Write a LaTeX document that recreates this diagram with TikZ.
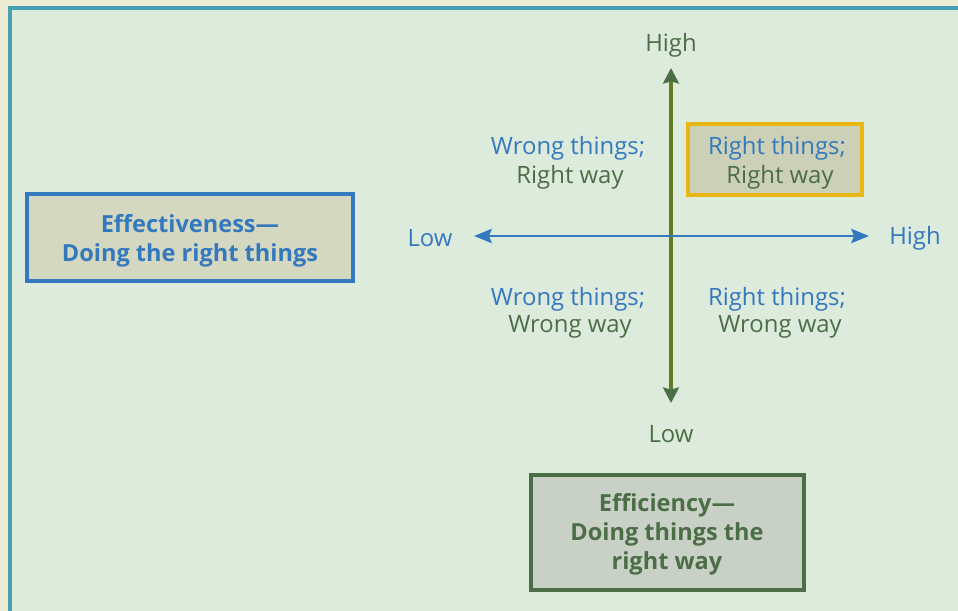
\documentclass[tikz,border=0pt]{standalone}
\usepackage{fontspec}
\setmainfont{Open Sans}
\usetikzlibrary{arrows.meta}
\definecolor{cream}{RGB}{236,235,211}
\definecolor{panel}{RGB}{221,235,221}
\definecolor{framecol}{RGB}{72,160,180}
\definecolor{axisblue}{RGB}{52,120,190}
\definecolor{axisgreen}{RGB}{76,110,70}
\definecolor{olive}{RGB}{98,122,38}
\definecolor{gold}{RGB}{232,183,18}
\definecolor{efffill}{RGB}{213,216,193}
\definecolor{rightfill}{RGB}{204,208,182}
\definecolor{efcfill}{RGB}{201,209,199}
\tikzset{axistip/.tip={Stealth[length=10pt,width=8pt,inset=1.5pt]},
  greentip/.tip={Stealth[length=8.8pt,width=9pt,inset=1.2pt,color=axisgreen]}}
\begin{document}
\begin{tikzpicture}[x=0.02cm,y=-0.02cm,
  lbl/.style={font=\fontsize{13.6}{16.2}\selectfont,align=center,inner sep=0pt},
  bluelbl/.style={lbl,text=axisblue},
  greenlbl/.style={lbl,text=axisgreen},
  bigbox/.style={lbl,font=\fontsize{13.4}{16.4}\selectfont\bfseries,line width=1.9pt}]
\useasboundingbox (0,0) rectangle (958,611);
\clip (0,0) rectangle (958,611);
\fill[cream] (0,0) rectangle (958,611);
\draw[framecol,fill=panel,line width=1.9pt] (10,8) rectangle (980,640);
\node[bigbox,draw=axisblue,fill=efffill,text=axisblue,minimum width=6.52cm,minimum height=1.74cm] (effect) at (190,237.5) {};
\node[bigbox,text=axisblue] (effecttext) at (190,240.5) {Effectiveness---\\Doing the right things};
\node[bigbox,draw=axisgreen,fill=efcfill,text=axisgreen,minimum width=5.46cm,minimum height=2.3cm] (effic) at (667.5,532.5) {};
\node[bigbox,text=axisgreen] (effictext) at (667,534.5) {Efficiency---\\Doing things the\\right way};
\node[lbl,draw=gold,fill=rightfill,line width=1.9pt,minimum width=3.48cm,minimum height=1.42cm] (rr) at (775,159.5) {};
\coordinate (vtop) at (671,68);
\coordinate (vbot) at (671,403);
\coordinate (hleft) at (474,236);
\coordinate (hright) at (869,236);
\draw[olive,line width=2.2pt,greentip-greentip] (vbot) -- (vtop);
\draw[axisblue,line width=1.7pt,axistip-axistip] (hleft) -- (hright);
\node[greenlbl] (vhigh) at (671,45) {High};
\node[greenlbl] (vlow) at (671,434) {Low};
\node[bluelbl] (hlow) at (430,238) {Low};
\node[bluelbl] (hhigh) at (915,238) {High};
\node[bluelbl] (wrtop) at (568,148) {Wrong things;};
\node[greenlbl] (rwtop) at (570,177) {Right way};
\node[bluelbl] (rttop) at (777,148) {Right things;};
\node[greenlbl] (rwright) at (780,177) {Right way};
\node[bluelbl] (wtbot) at (568,299) {Wrong things;};
\node[greenlbl] (wwbot) at (570,327) {Wrong way};
\node[bluelbl] (rtbot) at (777,299) {Right things;};
\node[greenlbl] (wwright) at (780,327) {Wrong way};
\end{tikzpicture}
\end{document}
